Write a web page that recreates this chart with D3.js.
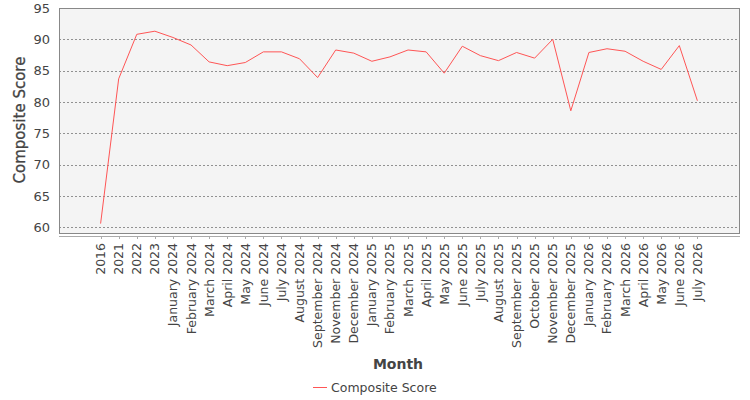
<!DOCTYPE html>
<html>
<head>
<meta charset="utf-8">
<script src="https://cdn.jsdelivr.net/npm/d3@7"></script>
<style>
  body { margin: 0; background: #fff; }
  text { font-family: "DejaVu Sans", sans-serif; }
</style>
</head>
<body>
<svg id="chart" width="750" height="400"></svg>
<script>
// categories on the x axis
const months = ["2016", "2021", "2022", "2023",
  "January 2024", "February 2024", "March 2024", "April 2024", "May 2024", "June 2024",
  "July 2024", "August 2024", "September 2024", "November 2024", "December 2024",
  "January 2025", "February 2025", "March 2025", "April 2025", "May 2025", "June 2025",
  "July 2025", "August 2025", "September 2025", "October 2025", "November 2025", "December 2025",
  "January 2026", "February 2026", "March 2026", "April 2026", "May 2026", "June 2026", "July 2026"];

const scores = [60.6, 83.7, 90.8, 91.3,
  90.3, 89.1, 86.4, 85.8, 86.3, 88.0,
  88.0, 86.9, 83.9, 88.3, 87.8,
  86.5, 87.2, 88.3, 88.0, 84.6, 88.9,
  87.4, 86.6, 87.9, 87.0, 90.0, 78.6,
  87.9, 88.5, 88.1, 86.5, 85.2, 89.0, 80.2];

const yTicks = [60, 65, 70, 75, 80, 85, 90, 95];

const svg = d3.select("#chart");
const plotL = 59, plotT = 8, plotR = 739, plotB = 233;

// plot background
svg.append("rect")
  .attr("x", plotL).attr("y", plotT)
  .attr("width", plotR - plotL).attr("height", plotB - plotT)
  .attr("fill", "#f4f4f4");

const x = d3.scalePoint()
  .domain(months)
  .range([plotL, plotR])
  .padding(2.3);

const y = d3.scaleLinear()
  .domain([59.1, 95])
  .range([plotB, plotT]);

// gridlines
svg.append("g")
  .selectAll("line")
  .data(yTicks)
  .enter()
  .append("line")
  .attr("x1", plotL).attr("x2", plotR)
  .attr("y1", d => Math.round(y(d)) + 0.5)
  .attr("y2", d => Math.round(y(d)) + 0.5)
  .attr("stroke", "#777")
  .attr("stroke-width", 0.8)
  .attr("stroke-dasharray", "2,2");

// plot outline
svg.append("rect")
  .attr("x", plotL + 0.5).attr("y", plotT + 0.5)
  .attr("width", plotR - plotL).attr("height", plotB - plotT)
  .attr("fill", "none")
  .attr("stroke", "#888");

// y axis labels
svg.append("g")
  .selectAll("text")
  .data(yTicks)
  .enter()
  .append("text")
  .attr("x", 50)
  .attr("y", d => y(d))
  .attr("dy", "0.35em")
  .attr("text-anchor", "end")
  .attr("font-size", 13)
  .attr("fill", "#444")
  .text(d => d);

// x axis line + ticks
const xAxis = svg.append("g");
xAxis.append("line")
  .attr("x1", plotL).attr("x2", plotR + 1)
  .attr("y1", 236.5).attr("y2", 236.5)
  .attr("stroke", "#aaa");
xAxis.selectAll(".tick")
  .data(months)
  .enter()
  .append("line")
  .attr("x1", d => Math.round(x(d)) + 0.5)
  .attr("x2", d => Math.round(x(d)) + 0.5)
  .attr("y1", 236).attr("y2", 239)
  .attr("stroke", "#aaa");

xAxis.selectAll("text")
  .data(months)
  .enter()
  .append("text")
  .attr("transform", d => `translate(${x(d) + 4.5},243) rotate(-90)`)
  .attr("text-anchor", "end")
  .attr("font-size", 12.5)
  .attr("fill", "#444")
  .text(d => d);

// line
const line = d3.line()
  .x((d, i) => x(months[i]))
  .y(d => y(d));

svg.append("path")
  .datum(scores)
  .attr("d", line)
  .attr("fill", "none")
  .attr("stroke", "#ff5555")
  .attr("stroke-width", 1);

// axis titles
svg.append("text")
  .attr("transform", "translate(25,120) rotate(-90)")
  .attr("text-anchor", "middle")
  .attr("font-size", 15)
  .attr("fill", "#444")
  .attr("stroke", "#444")
  .attr("stroke-width", 0.3)
  .text("Composite Score");

svg.append("text")
  .attr("x", 398).attr("y", 369)
  .attr("text-anchor", "middle")
  .attr("font-size", 14)
  .attr("font-weight", "bold")
  .attr("fill", "#444")
  .text("Month");

// legend
svg.append("line")
  .attr("x1", 313).attr("x2", 327)
  .attr("y1", 387.5).attr("y2", 387.5)
  .attr("stroke", "#ff5555");
svg.append("text")
  .attr("x", 331).attr("y", 392)
  .attr("font-size", 12.5)
  .attr("fill", "#444")
  .text("Composite Score");
</script>
</body>
</html>
